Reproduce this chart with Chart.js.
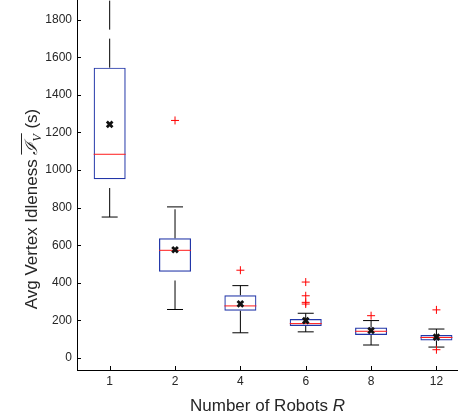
<!DOCTYPE html>
<html>
<head>
<meta charset="utf-8">
<script src="https://cdn.jsdelivr.net/npm/chart.js@4"></script>
<style>
	html, body { margin: 0; padding: 0; background: #fff; }
</style>
</head>
<body>
<canvas id="myChart" width="458" height="419"></canvas>
<script>
// number of robots (x categories)
const categories = ["1", "2", "4", "6", "8", "12"];
// box statistics (seconds)
const q1 = [951, 459, 251, 170, 122, 93];
const q3 = [1545, 637, 334, 207, 162, 122];
const medians = [1084, 573, 277, 183, 142, 109];
const means = [1243, 576, 288, 199, 146, 111];
const whiskerLow = [750, 258, 134, 139, 69, 58];
const whiskerHigh = [2100, 804, 385, 238, 199, 154];
const outliers = [[], [1264], [467], [404, 331, 296, 287], [225], [256, 44]];
const yTicks = [0, 200, 400, 600, 800, 1000, 1200, 1400, 1600, 1800];

const xPos = categories.map((c, i) => i + 1);

// whiskers as line segments separated by gaps
const upperWhiskers = [];
const lowerWhiskers = [];
const caps = [];
for (let i = 0; i < categories.length; i++) {
	upperWhiskers.push({ x: xPos[i], y: q3[i] }, { x: xPos[i], y: whiskerHigh[i] }, { x: xPos[i], y: null });
	lowerWhiskers.push({ x: xPos[i], y: whiskerLow[i] }, { x: xPos[i], y: q1[i] }, { x: xPos[i], y: null });
	caps.push({ x: xPos[i], y: whiskerLow[i] }, { x: xPos[i], y: whiskerHigh[i] });
}
const outlierPoints = [];
outliers.forEach((list, i) => {
	for (const v of list) outlierPoints.push({ x: xPos[i], y: v });
});

const textColor = "#262626";

const extras = {
	id: "extras",
	afterDraw(chart) {
		const { ctx, chartArea, scales } = chart;
		const x = scales.x;
		const y = scales.y;
		ctx.save();
		// inward tick marks
		ctx.strokeStyle = "#000";
		ctx.lineWidth = 1;
		ctx.beginPath();
		for (const t of y.ticks) {
			const py = Math.round(y.getPixelForValue(t.value)) + 0.5;
			ctx.moveTo(chartArea.left, py);
			ctx.lineTo(chartArea.left + 4, py);
		}
		for (const t of x.ticks) {
			const px = Math.round(x.getPixelForValue(t.value)) + 0.5;
			ctx.moveTo(px, chartArea.bottom);
			ctx.lineTo(px, chartArea.bottom - 4);
		}
		ctx.stroke();

		ctx.fillStyle = textColor;
		ctx.textBaseline = "alphabetic";
		ctx.textAlign = "left";

		// x title
		const xa = "Number of Robots ";
		ctx.font = '17px "Liberation Sans"';
		const wa = ctx.measureText(xa).width;
		ctx.font = 'italic 17px "Liberation Sans"';
		const wb = ctx.measureText("R").width;
		let sx = (chartArea.left + chartArea.right) / 2 - (wa + wb) / 2;
		const by = chartArea.bottom + 41;
		ctx.font = '17px "Liberation Sans"';
		ctx.fillText(xa, sx, by);
		ctx.font = 'italic 17px "Liberation Sans"';
		ctx.fillText("R", sx + wa, by);

		// y title, rotated
		ctx.translate(31, (chartArea.top + chartArea.bottom) / 2 + 24);
		ctx.rotate(-Math.PI / 2);
		const main = "Avg Vertex Idleness ";
		const tail = " (s)";
		ctx.font = '17px "Liberation Sans"';
		const wMain = ctx.measureText(main).width;
		const wTail = ctx.measureText(tail).width;
		ctx.font = 'italic 17px "Liberation Serif"';
		const wI = ctx.measureText("ℐ").width;
		ctx.font = 'italic 12px "Liberation Serif"';
		const wV = ctx.measureText("V").width;
		const total = wMain + wI + wV + 1 + wTail;
		let u = -total / 2;
		const base = 6;
		ctx.font = '17px "Liberation Sans"';
		ctx.fillText(main, u, base);
		u += wMain;
		const sStart = u;
		ctx.font = 'italic 17px "Liberation Serif"';
		ctx.fillText("ℐ", u, base);
		u += wI;
		ctx.font = 'italic 12px "Liberation Serif"';
		ctx.fillText("V", u, base + 4);
		u += wV + 1;
		ctx.strokeStyle = textColor;
		ctx.beginPath();
		ctx.moveTo(sStart, base - 15.5);
		ctx.lineTo(u, base - 15.5);
		ctx.stroke();
		ctx.font = '17px "Liberation Sans"';
		ctx.fillText(tail, u, base);
		ctx.restore();
	}
};

const ctx = document.getElementById("myChart").getContext("2d");
const myChart = new Chart(ctx, {
	type: "bar",
	data: {
		datasets: [
			{
				type: "scatter",
				data: means.map((v, i) => ({ x: xPos[i], y: v })),
				pointStyle: "crossRot",
				pointRadius: 4,
				pointBorderWidth: 2.8,
				pointBorderColor: "#111",
				order: 0
			},
			{
				type: "scatter",
				data: outlierPoints,
				pointStyle: "cross",
				pointRadius: 4,
				pointBorderWidth: 1,
				pointBorderColor: "#ff0000",
				order: 1
			},
			{
				type: "scatter",
				data: medians.map((v, i) => ({ x: xPos[i], y: v })),
				pointStyle: "line",
				pointRadius: 16,
				pointBorderWidth: 1,
				pointBorderColor: "#ff1a1a",
				order: 2
			},
			{
				type: "scatter",
				data: caps,
				pointStyle: "line",
				pointRadius: 8,
				pointBorderWidth: 1,
				pointBorderColor: "#000",
				order: 3
			},
			{
				type: "line",
				data: upperWhiskers,
				borderColor: "#000",
				borderWidth: 1,
				borderDash: [29, 9],
				pointRadius: 0,
				spanGaps: false,
				order: 4
			},
			{
				type: "line",
				data: lowerWhiskers,
				borderColor: "#000",
				borderWidth: 1,
				borderDash: [29, 9],
				pointRadius: 0,
				spanGaps: false,
				order: 4
			},
			{
				type: "bar",
				data: q1.map((v, i) => ({ x: xPos[i], y: [v, q3[i]] })),
				backgroundColor: "rgba(0,0,0,0)",
				borderColor: "#2236a8",
				borderWidth: 1.2,
				borderSkipped: false,
				barPercentage: 0.49,
				categoryPercentage: 1,
				order: 5
			}
		]
	},
	options: {
		responsive: false,
		animation: false,
		events: [],
		layout: { padding: 0, autoPadding: false },
		plugins: {
			legend: { display: false },
			tooltip: { enabled: false }
		},
		scales: {
			x: {
				type: "linear",
				min: 0.5,
				max: 6.33,
				offset: false,
				grid: { display: false, drawTicks: false },
				border: { display: true, color: "#000", width: 1 },
				afterBuildTicks: (scale) => {
					scale.ticks = xPos.map((v) => ({ value: v }));
				},
				afterFit: (scale) => {
					scale.height = 49;
					scale.paddingLeft = 0;
					scale.paddingRight = 0;
				},
				ticks: {
					callback: (v) => categories[v - 1],
					font: { family: "Liberation Sans", size: 12 },
					color: textColor,
					padding: 4,
					maxRotation: 0,
					autoSkip: false
				}
			},
			y: {
				type: "linear",
				min: -64,
				max: 1905,
				grid: { display: false, drawTicks: false },
				border: { display: true, color: "#000", width: 1 },
				afterBuildTicks: (scale) => {
					scale.ticks = yTicks.map((v) => ({ value: v }));
				},
				afterFit: (scale) => {
					scale.width = 77;
					scale.paddingTop = 0;
					scale.paddingBottom = 0;
				},
				ticks: {
					callback: (v) => String(v),
					font: { family: "Liberation Sans", size: 12 },
					color: textColor,
					padding: 5
				}
			}
		}
	},
	plugins: [extras]
});
</script>
</body>
</html>
